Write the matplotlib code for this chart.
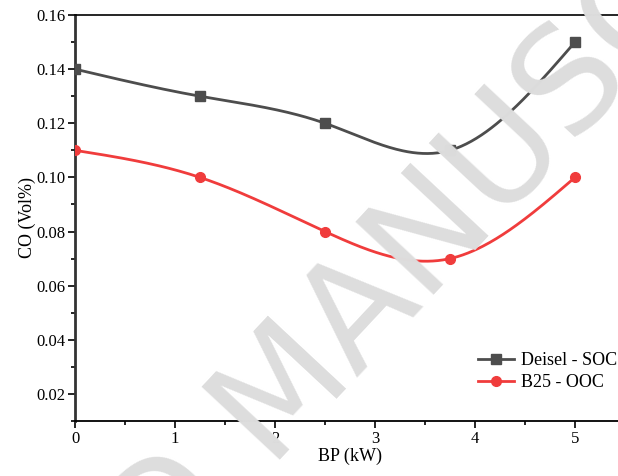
import numpy as np
import matplotlib.pyplot as plt
from matplotlib.ticker import MultipleLocator

# data
bp = [0, 1.25, 2.5, 3.75, 5]
co_diesel = [0.14, 0.13, 0.12, 0.11, 0.15]
co_b25 = [0.11, 0.10, 0.08, 0.07, 0.10]
labels = ['Deisel - SOC', 'B25 - OOC']


def natural_spline(x, y, n=300):
    #plain natural cubic spline, no scipy here
    x = np.asarray(x, float)
    y = np.asarray(y, float)
    k = len(x)
    h = np.diff(x)
    A = np.zeros((k, k))
    r = np.zeros(k)
    A[0, 0] = 1
    A[-1, -1] = 1
    for i in range(1, k - 1):
        A[i, i - 1] = h[i - 1]
        A[i, i] = 2 * (h[i - 1] + h[i])
        A[i, i + 1] = h[i]
        r[i] = 3 * ((y[i + 1] - y[i]) / h[i] - (y[i] - y[i - 1]) / h[i - 1])
    c = np.linalg.solve(A, r)
    xs = np.linspace(x[0], x[-1], n)
    idx = np.clip(np.searchsorted(x, xs) - 1, 0, k - 2)
    dx = xs - x[idx]
    hi = h[idx]
    b = (y[idx + 1] - y[idx]) / hi - hi * (2 * c[idx] + c[idx + 1]) / 3
    d = (c[idx + 1] - c[idx]) / (3 * hi)
    ys = y[idx] + b * dx + c[idx] * dx ** 2 + d * dx ** 3
    return xs, ys


plt.rcParams['font.family'] = ['Liberation Serif']

W, H = 618, 476
fig = plt.figure(figsize=(W / 100, H / 100), dpi=100)
ax = fig.add_axes([75 / W, 55 / H, 550 / W, 406 / H])
ax.patch.set_alpha(0)

# watermark behind the plot
fig.text(288 / W, 1 - 392 / H, 'ACCEPTED MANUSCRIPT', rotation=47,
         ha='center', va='center', fontsize=105, color='#dddddd',
         family='DejaVu Sans', zorder=0, rotation_mode='anchor')

colors = ['#4d4d4d', '#f03c3c']
markers = ['s', 'o']
for ys_data, col, mk, lab in zip([co_diesel, co_b25], colors, markers, labels):
    xs, ys = natural_spline(bp, ys_data)
    ax.plot(xs, ys, color=col, lw=2, zorder=3)
    ax.plot(bp, ys_data, ls='none', marker=mk, ms=7, color=col, zorder=4)
    # legend proxy
    ax.plot([], [], color=col, lw=2, marker=mk, ms=7, label=lab)

ax.set_xlim(0, 5.5)
ax.set_ylim(0.01, 0.16)
ax.xaxis.set_major_locator(MultipleLocator(1))
ax.xaxis.set_minor_locator(MultipleLocator(0.5))
ax.yaxis.set_minor_locator(MultipleLocator(0.01))
ax.set_yticks(np.arange(0.02, 0.161, 0.02))
ax.set_yticklabels(['%.2f' % v for v in np.arange(0.02, 0.161, 0.02)])
ax.tick_params(which='major', direction='out', length=5, width=1.2, labelsize=12, pad=2)
ax.tick_params(which='minor', direction='out', length=3, width=1.2)

ax.spines['right'].set_visible(False)
ax.spines['left'].set_linewidth(2)
ax.spines['left'].set_color('#333333')
ax.spines['bottom'].set_linewidth(1.3)
ax.spines['top'].set_linewidth(1.2)

ax.set_xlabel('BP (kW)', fontsize=13, labelpad=1)
ax.set_ylabel('CO (Vol%)', fontsize=13, labelpad=0)

ax.legend(loc='upper left', bbox_to_anchor=(478 / W, 1 - 352 / H),
          bbox_transform=fig.transFigure, frameon=False, fontsize=13,
          borderpad=0, borderaxespad=0, handlelength=2.0, handletextpad=0.4,
          labelspacing=0.3)

fig.savefig('out.png', dpi=100)
